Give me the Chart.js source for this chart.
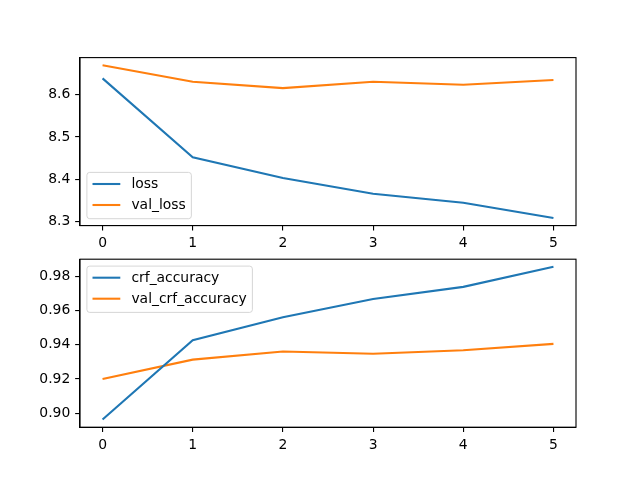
<!DOCTYPE html>
<html>
<head>
<meta charset="utf-8">
<script src="https://cdn.jsdelivr.net/npm/chart.js@4"></script>
<style>
html,body{margin:0;padding:0;background:#fff;}
#wrap{position:relative;width:640px;height:480px;}
canvas{position:absolute;left:0;top:0;}
</style>
</head>
<body>
<div id="wrap">
<canvas id="c1" width="640" height="480"></canvas>
<canvas id="c2" width="640" height="480"></canvas>
</div>
<script>
const epochs = [0, 1, 2, 3, 4, 5];
const loss = [8.638, 8.452, 8.403, 8.366, 8.345, 8.309];
const valLoss = [8.669, 8.630, 8.615, 8.630, 8.623, 8.634];
const crfAccuracy = [0.8963, 0.9427, 0.9561, 0.9667, 0.9738, 0.9855];
const valCrfAccuracy = [0.9200, 0.9313, 0.9361, 0.9347, 0.9368, 0.9405];
const xTicks = [0, 1, 2, 3, 4, 5];
const lossTicks = [8.3, 8.4, 8.5, 8.6];
const accTicks = [0.90, 0.92, 0.94, 0.96, 0.98];

const FONT = "'DejaVu Sans', sans-serif";
const FS = 13.9;
const BLUE = '#1f77b4', ORANGE = '#ff7f0e';
const LW = 2.08, SPINE = 1.11, TL = 4.86, TP = 4.86;

function pts(ys){ return epochs.map((x,i)=>({x:x, y:ys[i]})); }
function lim(arrs){
  const all = [].concat(...arrs);
  const mn = Math.min(...all), mx = Math.max(...all), r = mx - mn;
  return [mn - 0.05*r, mx + 0.05*r];
}

const frameLegend = {
  id: 'frameLegend',
  afterDraw(chart, args, opts){
    const ctx = chart.ctx, a = chart.chartArea;
    ctx.save();
    ctx.strokeStyle = '#000'; ctx.lineWidth = SPINE;
    ctx.strokeRect(a.left, a.top, a.right - a.left, a.bottom - a.top);
    ctx.font = FS + 'px ' + FONT;
    const items = chart.data.datasets;
    let tw = 0;
    items.forEach(d => { tw = Math.max(tw, ctx.measureText(d.label).width); });
    const pad = 5.6, hl = 27.8, htp = 11.1, rowH = 21, axpad = 6.9;
    const w = pad + hl + htp + tw + pad;
    const h = 46.3;
    const x0 = a.left + axpad;
    const y0 = opts.pos === 'lower' ? a.bottom - axpad - h : a.top + axpad;
    const r = 2.8;
    ctx.beginPath();
    ctx.moveTo(x0 + r, y0);
    ctx.lineTo(x0 + w - r, y0); ctx.arcTo(x0 + w, y0, x0 + w, y0 + r, r);
    ctx.lineTo(x0 + w, y0 + h - r); ctx.arcTo(x0 + w, y0 + h, x0 + w - r, y0 + h, r);
    ctx.lineTo(x0 + r, y0 + h); ctx.arcTo(x0, y0 + h, x0, y0 + h - r, r);
    ctx.lineTo(x0, y0 + r); ctx.arcTo(x0, y0, x0 + r, y0, r);
    ctx.closePath();
    ctx.fillStyle = 'rgba(255,255,255,0.8)'; ctx.fill();
    ctx.strokeStyle = 'rgba(204,204,204,0.8)'; ctx.lineWidth = 1; ctx.stroke();
    items.forEach((d, i) => {
      const cy = y0 + 11.6 + i * rowH;
      ctx.strokeStyle = d.borderColor; ctx.lineWidth = LW;
      ctx.beginPath(); ctx.moveTo(x0 + pad, cy); ctx.lineTo(x0 + pad + hl, cy); ctx.stroke();
      ctx.fillStyle = '#000'; ctx.textBaseline = 'middle'; ctx.textAlign = 'left';
      ctx.fillText(d.label, x0 + pad + hl + htp, cy + 0.5);
    });
    ctx.restore();
  }
};

function makeChart(id, sets, yTicks, dec, padTop, padBottom, legendPos){
  const [ymin, ymax] = lim(sets.map(s => s.data));
  return new Chart(document.getElementById(id), {
    type: 'line',
    data: {
      datasets: sets.map(s => ({
        label: s.label, data: pts(s.data), borderColor: s.color, backgroundColor: s.color,
        borderWidth: LW, pointRadius: 0, tension: 0, fill: false
      }))
    },
    options: {
      responsive: false, animation: false, devicePixelRatio: 1,
      layout: { padding: { left: 30, right: 64, top: padTop, bottom: padBottom } },
      plugins: { legend: { display: false }, tooltip: { enabled: false }, frameLegend: { pos: legendPos } },
      scales: {
        x: {
          type: 'linear', min: -0.25, max: 5.25,
          afterBuildTicks: s => { s.ticks = xTicks.map(v => ({ value: v })); },
          afterFit: s => { s.height = 30; },
          grid: { drawOnChartArea: false, color: '#000', lineWidth: SPINE, tickLength: TL },
          border: { display: true, color: '#000', width: SPINE },
          ticks: { color: '#000', padding: TP, font: { family: FONT, size: FS }, maxRotation: 0,
                   callback: v => String(v) }
        },
        y: {
          type: 'linear', min: ymin, max: ymax,
          afterBuildTicks: s => { s.ticks = yTicks.map(v => ({ value: v })); },
          afterFit: s => { s.width = 50; },
          grid: { drawOnChartArea: false, color: '#000', lineWidth: SPINE, tickLength: TL },
          border: { display: true, color: '#000', width: SPINE },
          ticks: { color: '#000', padding: TP, font: { family: FONT, size: FS },
                   callback: v => Number(v).toFixed(dec) }
        }
      }
    },
    plugins: [frameLegend]
  });
}

makeChart('c1', [
  { label: 'loss', data: loss, color: BLUE },
  { label: 'val_loss', data: valLoss, color: ORANGE }
], lossTicks, 1, 57.6, 224.4, 'lower');

makeChart('c2', [
  { label: 'crf_accuracy', data: crfAccuracy, color: BLUE },
  { label: 'val_crf_accuracy', data: valCrfAccuracy, color: ORANGE }
], accTicks, 2, 259.2, 22.8, 'upper');
</script>
</body>
</html>
